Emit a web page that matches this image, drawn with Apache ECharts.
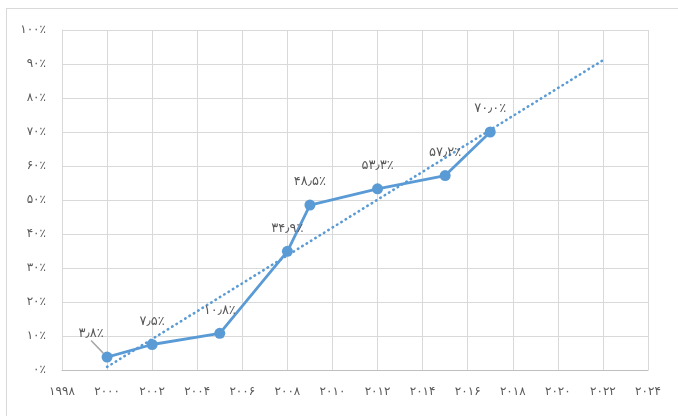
<!DOCTYPE html>
<html>
<head>
<meta charset="utf-8">
<script src="https://cdn.jsdelivr.net/npm/echarts@6/dist/echarts.min.js"></script>
<style>
    html, body { margin: 0; padding: 0; background: #fff; }
    #frame { position: absolute; left: 6px; top: 8px; width: 700px; height: 440px; border: 1px solid #d9d9d9; box-sizing: border-box; }
    #chart { position: absolute; left: 0; top: 0; width: 678px; height: 416px; }
</style>
</head>
<body>
<div id="frame"></div>
<div id="chart"></div>
<script>
// سال‌ها و درصدها
var years = [2000, 2002, 2005, 2008, 2009, 2012, 2015, 2017];
var values = [3.8, 7.5, 10.8, 34.9, 48.5, 53.3, 57.2, 70.0];

// خط روند (دو سر خط، از روی تصویر)
var trendYears = [2000, 2022];
var trendValues = [0.9, 91.1];

var xMin = 1998, xMax = 2024, xStep = 2;
var yMin = 0, yMax = 100, yStep = 10;

function toFa(s) {
    var d = '۰۱۲۳۴۵۶۷۸۹';
    return String(s).replace(/[0-9]/g, function (c) { return d[+c]; }).replace('.', '٫');
}

var lineData = [];
for (var i = 0; i < years.length; i++) {
    var item = {value: [years[i], values[i]]};
    if (i == 0) {
        item.labelLine = {show: true, lineStyle: {color: '#a6a6a6', width: 1.5}};
    }
    lineData.push(item);
}
var trendData = [];
for (var j = 0; j < trendYears.length; j++) {
    trendData.push([trendYears[j], trendValues[j]]);
}

var dom = document.getElementById('chart');
var myChart = echarts.init(dom);
var textColor = '#595959';
var font = "'DejaVu Sans', sans-serif";

option = {
    animation: false,
    grid: {left: 62, right: 30, top: 30, bottom: 46},
    xAxis: {
        type: 'value',
        min: xMin,
        max: xMax,
        interval: xStep,
        axisLine: {show: true, lineStyle: {color: '#bfbfbf', width: 1}},
        axisTick: {show: false},
        splitLine: {show: true, lineStyle: {color: '#d9d9d9', width: 1}},
        axisLabel: {
            color: textColor,
            fontFamily: font,
            fontSize: 12,
            margin: 16,
            showMinLabel: true,
            showMaxLabel: true,
            formatter: function (v) { return toFa(v); }
        }
    },
    yAxis: {
        type: 'value',
        min: yMin,
        max: yMax,
        interval: yStep,
        axisLine: {show: true, lineStyle: {color: '#d9d9d9', width: 1}},
        axisTick: {show: false},
        splitLine: {show: true, lineStyle: {color: '#d9d9d9', width: 1}},
        axisLabel: {
            color: textColor,
            fontFamily: font,
            fontSize: 12,
            margin: 16,
            formatter: function (v) { return toFa(v) + '٪'; }
        }
    },
    series: [
        {
            type: 'line',
            data: trendData,
            showSymbol: false,
            symbol: 'none',
            z: 1,
            lineStyle: {color: '#5b9bd5', width: 2.6, type: [0.5, 4.6], cap: 'round'}
        },
        {
            type: 'line',
            data: lineData,
            z: 3,
            symbol: 'circle',
            symbolSize: 11,
            itemStyle: {color: '#5b9bd5'},
            lineStyle: {color: '#5b9bd5', width: 2.8},
            label: {
                show: true,
                position: 'top',
                distance: 11,
                color: textColor,
                fontFamily: font,
                fontSize: 13,
                formatter: function (p) { return toFa(p.value[1].toFixed(1)) + '٪'; }
            },
            labelLayout: function (params) {
                if (params.dataIndex == 0) {
                    return {dx: -16, dy: 0};
                }
                return {};
            }
        }
    ]
};

if (option && typeof option === "object") {
    myChart.setOption(option, true);
}
</script>
</body>
</html>
